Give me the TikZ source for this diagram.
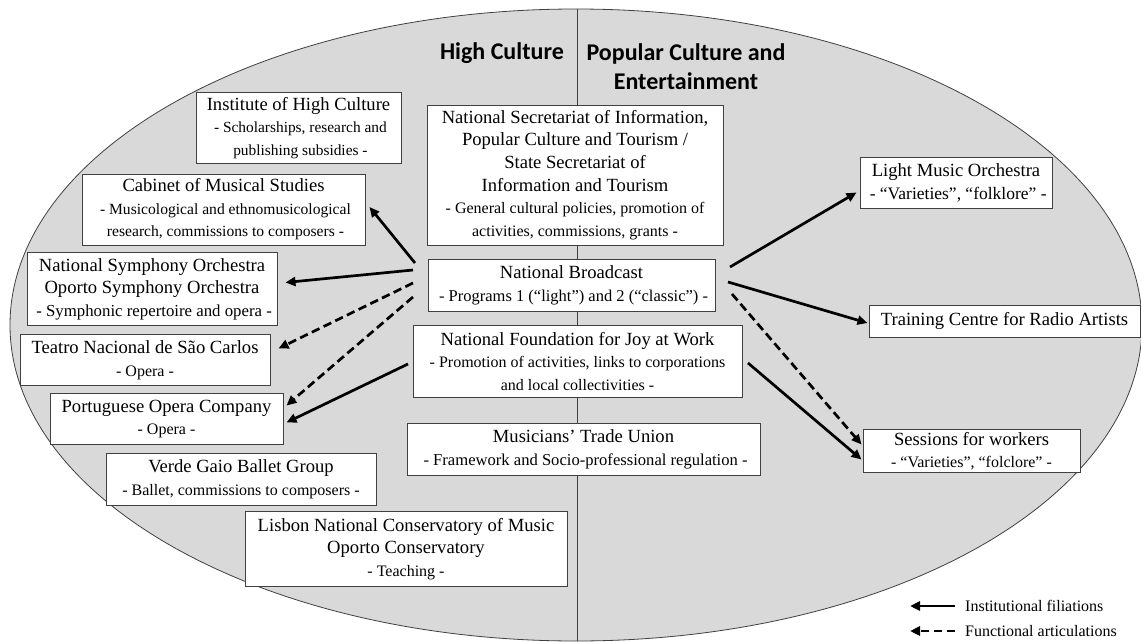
\documentclass[tikz,border=0pt]{standalone}
\usepackage{fontspec}
\setmainfont{Liberation Serif}
\newfontfamily\calib{Carlito}
\usetikzlibrary{arrows.meta}
\newcommand\mainf{\fontsize{18.6}{22.6}\selectfont}
\newcommand\subf{\fontsize{16}{20}\selectfont}
\newcommand\subs[1]{\fontsize{#1}{20}\selectfont}
\definecolor{ellfill}{HTML}{D9D9D9}
\definecolor{edgec}{HTML}{404040}
\tikzset{
  box/.style={draw=edgec, line width=1pt, fill=white, inner sep=0pt, align=center, font=\mainf},
  hdr/.style={font=\calib\bfseries\fontsize{24}{29}\selectfont, inner sep=0pt, align=center},
  solidarr/.style={line width=2.7pt, -{Triangle[length=10pt,width=9pt]}},
  dasharr/.style={solidarr, dash pattern=on 8.5pt off 4.5pt},
  legtext/.style={font=\subf, anchor=west, inner sep=0pt},
}
\begin{document}
\begin{tikzpicture}[x=1pt,y=-1pt]
\useasboundingbox (0,0) rectangle (1141,642);
% background ellipse and divider
\draw[draw=edgec, fill=ellfill, line width=0.8pt] (576,325) ellipse [x radius=566, y radius=316];
\coordinate (vtop) at (577,9);
\coordinate (vbot) at (577,641);
\draw[edgec, line width=0.8pt] (vtop) -- (vbot);
% headers
\node[hdr, anchor=east] (hc) at (564,53) {High Culture};
\node[hdr] (pc) at (686,67) {Popular Culture and\\Entertainment};
% left boxes
\node[box, minimum width=205pt, minimum height=71pt] (ihc) at (298.5,128) {Institute of High Culture\\\subs{15.4} - Scholarships, research and\\\subs{15.4} publishing subsidies -};
\node[box, minimum width=283pt, minimum height=71pt] (cab) at (223.5,209.5) {Cabinet of Musical Studies\\\subs{15.6} - Musicological and ethnomusicological\\\subs{15.6} research, commissions to composers -};
\node[box, minimum width=250pt, minimum height=73pt] (nso) at (152,289) {National Symphony Orchestra\\Oporto Symphony Orchestra\\\subs{16.8} - Symphonic repertoire and opera -};
\node[box, minimum width=250pt, minimum height=51pt] (tea) at (145,360) {Teatro Nacional de São Carlos\\\subf - Opera -};
\node[box, minimum width=233pt, minimum height=51pt] (poc) at (166.5,419) {Portuguese Opera Company\\\subf - Opera -};
\node[box, minimum width=270pt, minimum height=52pt] (vg) at (241,479.5) {Verde Gaio Ballet Group\\\subf - Ballet, commissions to composers -};
\node[box, minimum width=322pt, minimum height=75pt] (lis) at (406,549) {Lisbon National Conservatory of Music\\Oporto Conservatory\\\subf - Teaching -};
% central boxes
\node[box, minimum width=296pt, minimum height=140pt] (nsi) at (575,175) {National Secretariat of Information,\\Popular Culture and Tourism /\\State Secretariat of\\Information and Tourism\\\subf - General cultural policies, promotion of\\\subf activities, commissions, grants -};
\node[box, minimum width=287pt, minimum height=52pt] (nb) at (571.5,285.5) {National Broadcast\\\subs{16.5} - Programs 1 (“light”) and 2 (“classic”) -};
\node[box, minimum width=329pt, minimum height=72pt] (nf) at (577.5,361.5) {National Foundation for Joy at Work\\\subf - Promotion of activities, links to corporations\\\subf and local collectivities -};
\node[box, minimum width=353pt, minimum height=52pt] (mtu) at (583.5,449.5) {Musicians’ Trade Union\\\subs{16.6} - Framework and Socio-professional regulation -};
% right boxes
\node[box, minimum width=192pt, minimum height=51pt] (lmo) at (956,183) {Light Music Orchestra\\\subs{17.5} - “Varieties”, “folklore” -};
\node[box, minimum width=271pt, minimum height=32pt] (tcr) at (1004.5,321) {Training Centre for Radio Artists};
\node[box, minimum width=217pt, minimum height=43pt] (sw) at (971.5,451) {Sessions for workers\\\subf - “Varieties”, “folclore” -};
% tails
\coordinate (t1) at (415,263);
\coordinate (t2) at (413,270);
\coordinate (t3) at (413,283);
\coordinate (t4) at (413,297);
\coordinate (t5) at (408,364);
\coordinate (t6) at (730,267);
\coordinate (t7) at (728,282);
\coordinate (t8) at (732,294);
\coordinate (t9) at (748,363);
% arrows
\draw[solidarr] (t1) -- ([shift={(4,-2.5)}]cab.east);
\draw[solidarr] (t2) -- ([shift={(8,-6.5)}]nso.east);
\draw[dasharr] (t3) -- ([shift={(8,-11.5)}]tea.east);
\draw[dasharr] (t4) -- ([shift={(3,-13.5)}]poc.east);
\draw[solidarr] (t5) -- ([shift={(3,3.5)}]poc.east);
\draw[solidarr] (t6) -- ([shift={(-3,9.5)}]lmo.west);
\draw[solidarr] (t7) -- ([shift={(-1,2)}]tcr.west);
\draw[dasharr] (t8) -- ([shift={(-1,-6.5)}]sw.west);
\draw[solidarr] (t9) -- ([shift={(-1,8.5)}]sw.west);
% legend
\coordinate (l1a) at (955,606);
\coordinate (l1b) at (910,606);
\coordinate (l2a) at (955,631);
\coordinate (l2b) at (910,631);
\draw[solidarr] (l1a) -- (l1b);
\draw[dasharr] (l2a) -- (l2b);
\node[legtext] (lg1) at (965,606) {Institutional filiations};
\node[legtext] (lg2) at (965,631) {Functional articulations};
\end{tikzpicture}
\end{document}
